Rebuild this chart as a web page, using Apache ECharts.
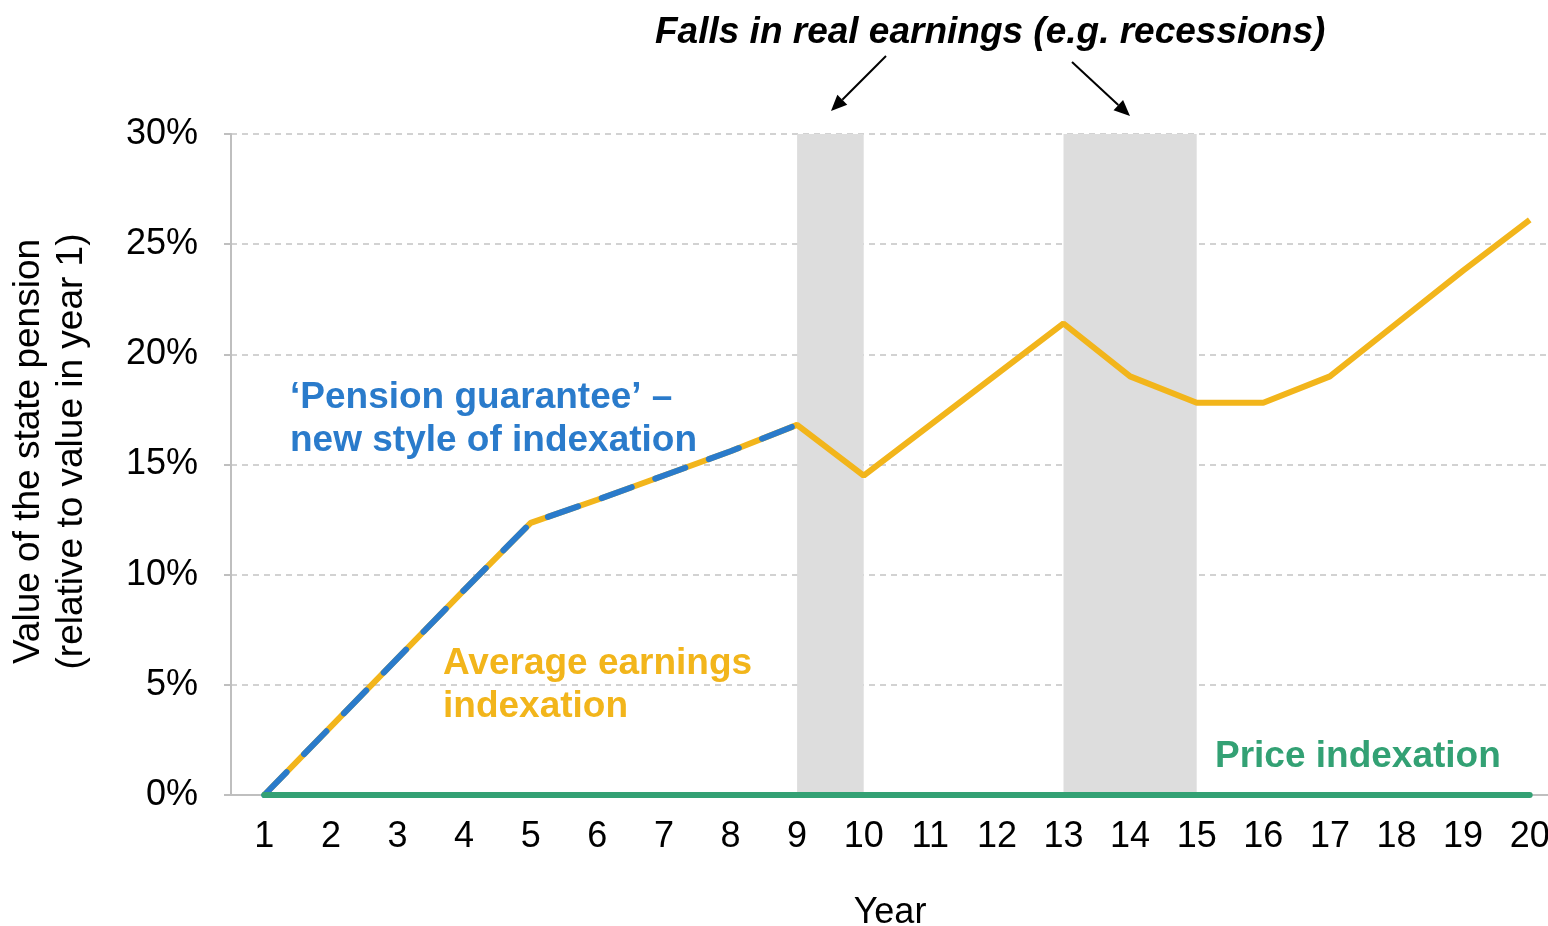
<!DOCTYPE html>
<html>
<head>
<meta charset="utf-8">
<script src="https://cdn.jsdelivr.net/npm/echarts@6/dist/echarts.min.js"></script>
<style>
  html, body { margin: 0; padding: 0; background: #fff; overflow: hidden; }
  #chart { width: 1548px; height: 926px; }
</style>
</head>
<body>
<div id="chart"></div>
<script>
var years = ['1', '2', '3', '4', '5', '6', '7', '8', '9', '10',
    '11', '12', '13', '14', '15', '16', '17', '18', '19', '20'];
var earnings = [0, 3.1, 6.2, 9.3, 12.35, 13.4, 14.5, 15.6, 16.8, 14.5,
    16.8, 19.1, 21.4, 19.0, 17.8, 17.8, 19.0, 21.4, 23.8, 26.1];
var guarantee = [0, 3.1, 6.2, 9.3, 12.35, 13.4, 14.5, 15.6, 16.8];
var prices = [0, 0, 0, 0, 0, 0, 0, 0, 0, 0, 0, 0, 0, 0, 0, 0, 0, 0, 0, 0];
var recessions = [['9', '10'], ['13', '15']];

var font = 'Arial, "Liberation Sans", sans-serif';
var yellow = '#F2B51B';
var blue = '#2A7BCB';
var green = '#33A174';

function arrow(x1, y1, x2, y2) {
    var a = Math.atan2(y2 - y1, x2 - x1);
    var len = 16, w = 7;
    var bx = x2 - len * Math.cos(a), by = y2 - len * Math.sin(a);
    return [
        { type: 'line', shape: { x1: x1, y1: y1, x2: bx, y2: by }, style: { stroke: '#000', lineWidth: 2 } },
        { type: 'polygon', shape: { points: [[x2, y2],
            [bx + w * Math.sin(a), by - w * Math.cos(a)],
            [bx - w * Math.sin(a), by + w * Math.cos(a)]] }, style: { fill: '#000' } }
    ];
}

var chart = echarts.init(document.querySelector('#chart'), null, { renderer: 'canvas' });
var option = {
    animation: false,
    textStyle: { fontFamily: font },
    grid: { left: 231, top: 134, bottom: 131, right: -15, containLabel: false, outerBoundsMode: 'none' },
    xAxis: {
        type: 'category',
        data: years,
        name: 'Year',
        nameLocation: 'middle',
        nameGap: 100,
        nameTextStyle: { fontSize: 36, color: '#000', fontFamily: font, padding: [0, 14, 0, 0] },
        axisLine: { lineStyle: { color: '#BFBFBF', width: 2 } },
        axisTick: { length: 9, lineStyle: { color: '#BFBFBF', width: 2 } },
        axisLabel: { fontSize: 36, color: '#000', margin: 24, fontFamily: font, interval: 0 }
    },
    yAxis: {
        type: 'value',
        min: 0, max: 30, interval: 5,
        name: 'Value of the state pension\n(relative to value in year 1)',
        nameLocation: 'middle',
        nameGap: 138,
        nameTextStyle: { fontSize: 37, color: '#000', lineHeight: 43, fontFamily: font, padding: [0, 0, 0, 26] },
        axisLine: { show: true, lineStyle: { color: '#BFBFBF', width: 2 } },
        axisTick: { show: true, length: 7, lineStyle: { color: '#BFBFBF', width: 2 } },
        axisLabel: { fontSize: 36, color: '#000', margin: 33, formatter: '{value}%', fontFamily: font },
        splitLine: { lineStyle: { color: '#C4C4C4', type: [6, 5], width: 1.5 } }
    },
    series: [
        {
            name: 'shade',
            type: 'line',
            data: [],
            z: 1,
            markArea: {
                silent: true,
                itemStyle: { color: '#DDDDDD' },
                data: recessions.map(function (r) { return [{ xAxis: r[0] }, { xAxis: r[1] }]; })
            }
        },
        {
            name: 'Average earnings indexation',
            type: 'line',
            data: earnings,
            z: 3,
            symbol: 'none',
            lineStyle: { color: yellow, width: 6 }
        },
        {
            name: 'Pension guarantee',
            type: 'line',
            data: guarantee,
            z: 4,
            symbol: 'none',
            lineStyle: { color: blue, width: 6, type: [32, 25], cap: 'round' }
        },
        {
            name: 'Price indexation',
            type: 'line',
            data: prices,
            z: 5,
            symbol: 'none',
            lineStyle: { color: green, width: 6, cap: 'round' }
        }
    ],
    graphic: [
        { type: 'text', left: 655, top: 14, style: { text: 'Falls in real earnings (e.g. recessions)',
            font: 'italic bold 37px ' + font, fill: '#000' } },
        { type: 'text', left: 290, top: 376, style: { text: '\u2018Pension guarantee\u2019 \u2013\nnew style of indexation',
            font: 'bold 37px ' + font, fill: blue, lineHeight: 43 } },
        { type: 'text', left: 443, top: 642, style: { text: 'Average earnings\nindexation',
            font: 'bold 37px ' + font, fill: yellow, lineHeight: 43 } },
        { type: 'text', left: 1215, top: 738, style: { text: 'Price indexation',
            font: 'bold 37px ' + font, fill: green } }
    ].concat(arrow(886, 56, 831, 111), arrow(1072, 62, 1130, 116))
};

if (option && typeof option === 'object') {
    chart.setOption(option);
}

window.addEventListener('resize', function () {
    chart.resize();
});
</script>
</body>
</html>
